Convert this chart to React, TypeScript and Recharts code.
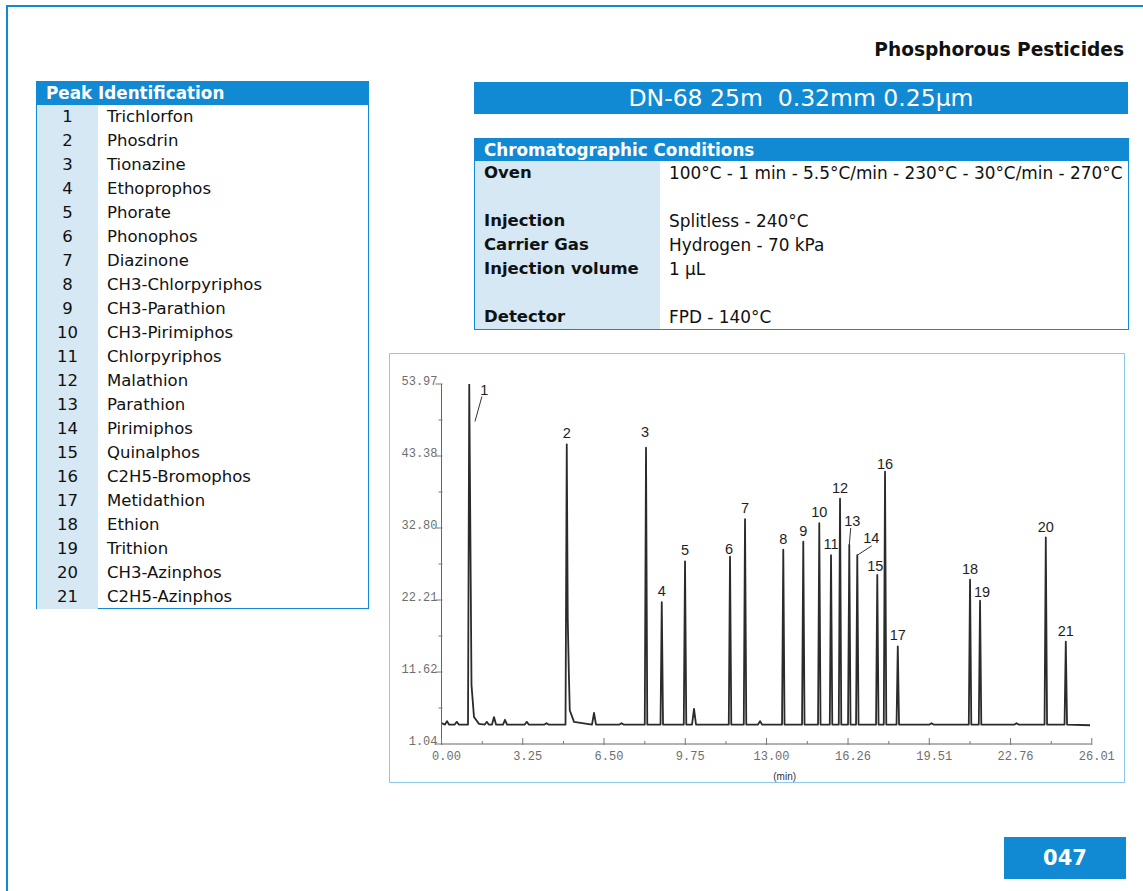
import { ComposedChart, Label, Line, Scatter, XAxis, YAxis } from "recharts"

// peak table
const peakNames = [
  "Trichlorfon",
  "Phosdrin",
  "Tionazine",
  "Ethoprophos",
  "Phorate",
  "Phonophos",
  "Diazinone",
  "CH3-Chlorpyriphos",
  "CH3-Parathion",
  "CH3-Pirimiphos",
  "Chlorpyriphos",
  "Malathion",
  "Parathion",
  "Pirimiphos",
  "Quinalphos",
  "C2H5-Bromophos",
  "Metidathion",
  "Ethion",
  "Trithion",
  "CH3-Azinphos",
  "C2H5-Azinphos",
]

const conditionLabels = ["Oven", "", "Injection", "Carrier Gas", "Injection volume", "", "Detector"]
const conditionValues = [
  "100°C - 1 min - 5.5°C/min - 230°C - 30°C/min - 270°C",
  "",
  "Splitless - 240°C",
  "Hydrogen - 70 kPa",
  "1 µL",
  "",
  "FPD - 140°C",
]

// retention time (min) and apex response of each numbered peak
const peakTimes = [
  1.11, 5.01, 8.18, 8.81, 9.74, 11.54, 12.14, 13.67, 14.47, 15.11, 15.58, 15.94, 16.31, 16.63, 17.43, 17.74,
  18.25, 21.14, 21.54, 24.17, 24.97,
]
const peakHeights = [
  53.9, 45.1, 44.6, 21.9, 27.9, 28.6, 34.1, 29.6, 30.8, 33.5, 28.8, 37.1, 30.3, 28.8, 25.9, 41.1, 15.4, 25.2,
  22.1, 31.4, 16.1,
]

// small unlabelled bumps on the baseline
const minorTimes = [0.22, 0.61, 1.81, 2.1, 2.54, 3.41, 4.2, 6.1, 7.2, 10.1, 12.74, 19.6, 23.0]
const minorHeights = [4.4, 4.3, 4.3, 5.0, 4.6, 4.3, 4.1, 5.6, 4.1, 6.2, 4.4, 4.1, 4.1]

// tailing shoulders after peaks 1 and 2
const shoulderTimes = [1.2, 1.3, 1.5, 5.05, 5.09, 5.13, 5.3]
const shoulderValues = [9.7, 5.0, 4.0, 19.3, 12.0, 6.0, 4.3]

const baselineTimes = [0, 25.94]
const baselineValues = [4.1, 3.8]
const BASE = 3.9

const xMajorTicks = [0, 3.25, 6.5, 9.75, 13, 16.26, 19.51, 22.76, 26.01]
const xMinorTicks = [1.63, 4.88, 8.13, 11.38, 14.63, 17.89, 21.14, 24.39]
const yMajorTicks = [1.04, 11.62, 22.21, 32.8, 43.38, 53.97]
const yMinorTicks = [6.33, 16.92, 27.51, 38.09, 48.68]

type Pt = { t: number; v: number; n?: number }

const trace: Pt[] = []
baselineTimes.forEach((t, i) => trace.push({ t, v: baselineValues[i] }))
peakTimes.forEach((t, i) => {
  const tailed = shoulderTimes.some((s) => s > t && s < t + 0.5)
  trace.push({ t: t - 0.05, v: BASE }, { t, v: peakHeights[i] })
  if (!tailed) trace.push({ t: t + 0.05, v: BASE })
})
minorTimes.forEach((t, i) => {
  trace.push({ t: t - 0.08, v: BASE }, { t, v: minorHeights[i] }, { t: t + 0.08, v: BASE })
})
shoulderTimes.forEach((t, i) => trace.push({ t, v: shoulderValues[i] }))
trace.sort((a, b) => a.t - b.t)

const apexes: Pt[] = peakTimes.map((t, i) => ({ t, v: peakHeights[i], n: i + 1 }))

// label placement tweaks (px, relative to apex)
const labelNudge: Record<number, { dx: number; dy: number; lead?: number[] }> = {
  1: { dx: 15, dy: 6, lead: [12.7, 12, 5.7, 37] },
  3: { dx: -1, dy: -16 },
  6: { dx: -1, dy: -8 },
  13: { dx: 3, dy: -24, lead: [1.4, -17, 0, 0] },
  14: { dx: 14, dy: -17, lead: [14.4, -9.3, 0, 0] },
  15: { dx: -2, dy: -9 },
  16: { dx: 0, dy: -8 },
  19: { dx: 2, dy: -9 },
}

const BLUE = "#118ad3"
const LIGHT = "#d5e8f3"
const FONT = "'DejaVu Sans', Verdana, sans-serif"
const MONO = "'Liberation Mono', 'DejaVu Sans Mono', monospace"

const PeakLabel = (props: any) => {
  const { cx, cy, payload } = props
  const nudge = labelNudge[payload.n] || { dx: 0, dy: -11 }
  const lead = nudge.lead
  return (
    <g>
      {lead && (
        <line x1={cx + lead[0]} y1={cy + lead[1]} x2={cx + lead[2]} y2={cy + lead[3]} stroke="#333" strokeWidth={1} />
      )}
      <text
        x={cx + nudge.dx}
        y={cy + nudge.dy + 5}
        textAnchor="middle"
        fontFamily="'Liberation Sans', Arial, sans-serif"
        fontSize={14.5}
        fill="#1e1e1e"
      >
        {payload.n}
      </text>
    </g>
  )
}

const XTick = (props: any) => {
  const { x, y, payload } = props
  const major = xMajorTicks.includes(payload.value)
  return (
    <g>
      <line x1={x} x2={x} y1={y - (major ? 6 : 3)} y2={y + (major ? 1 : 0)} stroke="#777" />
      {major && (
        <text x={x + 5} y={y + 16} textAnchor="middle" fontFamily={MONO} fontSize={12} fill="#6e6e6e">
          {payload.value.toFixed(2)}
        </text>
      )}
    </g>
  )
}

const YTick = (props: any) => {
  const { x, y, payload } = props
  const major = yMajorTicks.includes(payload.value)
  return (
    <g>
      <line x1={major ? x - 6 : x - 3} x2={x + 1} y1={y} y2={y} stroke="#777" />
      {major && (
        <text x={x - 4} y={y + 1} textAnchor="end" fontFamily={MONO} fontSize={12} fill="#6e6e6e">
          {payload.value.toFixed(2)}
        </text>
      )}
    </g>
  )
}

function Chromatogram() {
  return (
    <ComposedChart width={734} height={428} data={trace} margin={{ top: 30, right: 32.2, left: 0, bottom: 0 }}>
      <XAxis
        dataKey="t"
        type="number"
        domain={[0, 26.01]}
        allowDataOverflow
        ticks={[...xMajorTicks, ...xMinorTicks]}
        interval={0}
        tick={<XTick />}
        tickLine={false}
        tickSize={0}
        tickMargin={0}
        height={38}
        axisLine={{ stroke: "#666" }}
      >
        <Label
          value="(min)"
          position="insideBottom"
          offset={2}
          dx={18}
          style={{ fontFamily: "'Liberation Sans', Arial, sans-serif", fontSize: 10, fill: "#333" }}
        />
      </XAxis>
      <YAxis
        dataKey="v"
        type="number"
        domain={[1.04, 53.97]}
        allowDataOverflow
        ticks={[...yMajorTicks, ...yMinorTicks]}
        interval={0}
        tick={<YTick />}
        tickLine={false}
        tickSize={0}
        tickMargin={0}
        width={51.5}
        axisLine={{ stroke: "#666" }}
      />
      <Line
        dataKey="v"
        type="linear"
        stroke="#2b2b2b"
        strokeWidth={1.8}
        strokeLinejoin="round"
        dot={false}
        activeDot={false}
        isAnimationActive={false}
      />
      <Scatter data={apexes} dataKey="v" shape={<PeakLabel />} isAnimationActive={false} />
    </ComposedChart>
  )
}

export default function App() {
  const abs = (left: number, top: number, width: number, height: number): React.CSSProperties => ({
    position: "absolute",
    left,
    top,
    width,
    height,
    boxSizing: "border-box",
  })

  return (
    <div
      style={{
        position: "absolute",
        left: 0,
        top: 0,
        width: 1143,
        height: 891,
        overflow: "hidden",
        background: "#fff",
        fontFamily: FONT,
        color: "#111",
      }}
    >
      {/* page frame */}
      <div style={{ ...abs(6, 5, 1140, 900), borderTop: `2px solid ${BLUE}`, borderLeft: `2px solid ${BLUE}` }} />

      <div
        style={{
          ...abs(600, 38, 524, 24),
          textAlign: "right",
          fontWeight: "bold",
          fontSize: 18.6,
          lineHeight: "24px",
        }}
      >
        Phosphorous Pesticides
      </div>

      {/* peak identification */}
      <div style={{ ...abs(36, 81, 333, 528), border: `1px solid ${BLUE}` }}>
        <div
          style={{
            height: 23,
            background: BLUE,
            color: "#fff",
            fontWeight: "bold",
            fontSize: 16.8,
            lineHeight: "23px",
            paddingLeft: 9,
          }}
        >
          Peak Identification
        </div>
        {peakNames.map((name, i) => (
          <div key={name} style={{ display: "flex", height: 24, lineHeight: "24px", fontSize: 16.5 }}>
            <div style={{ width: 61, background: LIGHT, textAlign: "center" }}>{i + 1}</div>
            <div style={{ paddingLeft: 9 }}>{name}</div>
          </div>
        ))}
      </div>

      {/* column title */}
      <div
        style={{
          ...abs(474, 82, 654, 32),
          background: BLUE,
          color: "#fff",
          textAlign: "center",
          fontSize: 23.5,
          lineHeight: "32px",
        }}
      >
        DN-68 25m&nbsp;&nbsp;0.32mm 0.25µm
      </div>

      {/* conditions */}
      <div style={{ ...abs(474, 138, 655, 192), border: `1px solid ${BLUE}` }}>
        <div
          style={{
            height: 22,
            background: BLUE,
            color: "#fff",
            fontWeight: "bold",
            fontSize: 16.8,
            lineHeight: "22px",
            paddingLeft: 9,
          }}
        >
          Chromatographic Conditions
        </div>
        {conditionLabels.map((label, i) => (
          <div key={i} style={{ display: "flex", height: 24, lineHeight: "24px", fontSize: 16.5 }}>
            <div style={{ width: 185, background: LIGHT, fontWeight: "bold", paddingLeft: 9, boxSizing: "border-box" }}>
              {label}
            </div>
            <div style={{ paddingLeft: 9, whiteSpace: "nowrap", fontSize: 16.9 }}>{conditionValues[i]}</div>
          </div>
        ))}
      </div>

      {/* chromatogram */}
      <div style={{ ...abs(389, 353, 736, 430), border: "1px solid #8dc9ee", background: "#fff" }}>
        <Chromatogram />
      </div>

      <div
        style={{
          ...abs(1004, 837, 122, 42),
          background: BLUE,
          color: "#fff",
          fontWeight: "bold",
          fontSize: 21,
          lineHeight: "42px",
          textAlign: "center",
        }}
      >
        047
      </div>
    </div>
  )
}
